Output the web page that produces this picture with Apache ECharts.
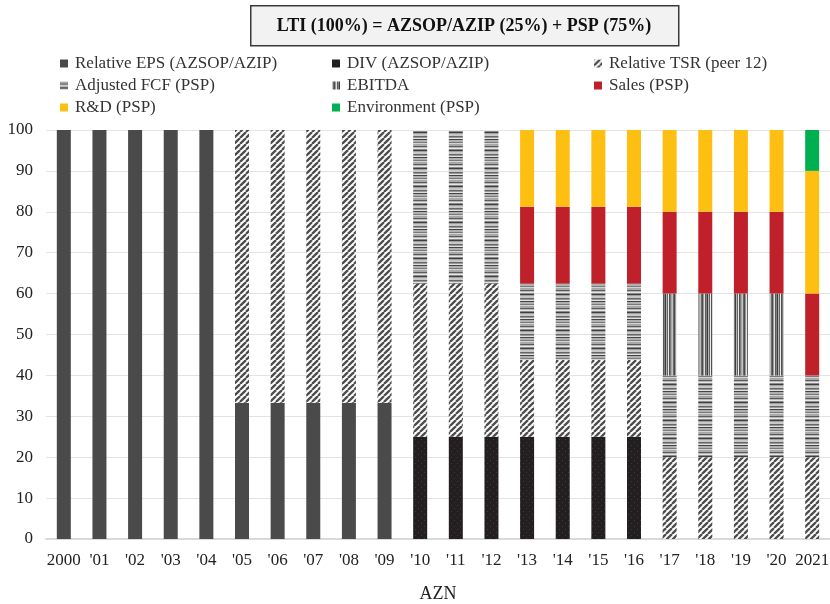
<!DOCTYPE html>
<html>
<head>
<meta charset="utf-8">
<style>
  html, body { margin: 0; padding: 0; background: #fff; }
  #chart { width: 830px; height: 604px; }
</style>
<script src="https://cdn.jsdelivr.net/npm/echarts@6/dist/echarts.min.js"></script>
</head>
<body>
<div id="chart"></div>
<script>
// Years on the category axis
const years = ['2000', "'01", "'02", "'03", "'04", "'05", "'06", "'07", "'08", "'09",
  "'10", "'11", "'12", "'13", "'14", "'15", "'16", "'17", "'18", "'19", "'20", '2021'];

// Weight of each performance measure in the LTI (%), stacked per year
const relEps     = [100, 100, 100, 100, 100, 33.3, 33.3, 33.3, 33.3, 33.3, 0, 0, 0, 0, 0, 0, 0, 0, 0, 0, 0, 0];
const divAz      = [0, 0, 0, 0, 0, 0, 0, 0, 0, 0, 25, 25, 25, 25, 25, 25, 25, 0, 0, 0, 0, 0];
const relTsr     = [0, 0, 0, 0, 0, 66.7, 66.7, 66.7, 66.7, 66.7, 37.5, 37.5, 37.5, 18.75, 18.75, 18.75, 18.75, 20, 20, 20, 20, 20];
const adjFcf     = [0, 0, 0, 0, 0, 0, 0, 0, 0, 0, 37.5, 37.5, 37.5, 18.75, 18.75, 18.75, 18.75, 20, 20, 20, 20, 20];
const ebitda     = [0, 0, 0, 0, 0, 0, 0, 0, 0, 0, 0, 0, 0, 0, 0, 0, 0, 20, 20, 20, 20, 0];
const sales      = [0, 0, 0, 0, 0, 0, 0, 0, 0, 0, 0, 0, 0, 18.75, 18.75, 18.75, 18.75, 20, 20, 20, 20, 20];
const rnd        = [0, 0, 0, 0, 0, 0, 0, 0, 0, 0, 0, 0, 0, 18.75, 18.75, 18.75, 18.75, 20, 20, 20, 20, 30];
const environ    = [0, 0, 0, 0, 0, 0, 0, 0, 0, 0, 0, 0, 0, 0, 0, 0, 0, 0, 0, 0, 0, 10];

const yTicks = [0, 10, 20, 30, 40, 50, 60, 70, 80, 90, 100];

const SERIF = '"Liberation Serif", "DejaVu Serif", serif';

// Texture helpers for the monochrome fills
function tile(w, h, draw) {
  const c = document.createElement('canvas');
  c.width = w; c.height = h;
  const ctx = c.getContext('2d');
  draw(ctx, w, h);
  return { image: c, repeat: 'repeat' };
}

// diagonal "/" stripes
const diagFill = tile(6, 6, (ctx, w, h) => {
  ctx.fillStyle = '#ffffff';
  ctx.fillRect(0, 0, w, h);
  ctx.strokeStyle = '#4d4d4d';
  ctx.lineWidth = 2.3;
  ctx.beginPath();
  for (let k = -2; k <= 2; k++) {
    ctx.moveTo(k * w, h);
    ctx.lineTo(k * w + w, 0);
  }
  ctx.stroke();
});

// horizontal grey bands of mixed tone
const horizFill = tile(4, 18, (ctx, w, h) => {
  const tones = ['#a8a8a8', '#a8a8a8', '#5a5a5a', '#b8b8b8', '#e6e6e6', '#8a8a8a', '#3f3f3f', '#a0a0a0',
                 '#c8c8c8', '#c8c8c8', '#666666', '#999999', '#e0e0e0', '#444444', '#b0b0b0', '#b0b0b0',
                 '#7a7a7a', '#d4d4d4'];
  tones.forEach((t, i) => { ctx.fillStyle = t; ctx.fillRect(0, i, w, 1); });
});

// vertical grey lines of mixed tone
const vertFill = tile(14, 4, (ctx, w, h) => {
  const tones = ['#c0c0c0', '#6a6a6a', '#4a4a4a', '#9a9a9a', '#e0e0e0', '#5a5a5a', '#808080',
                 '#3c3c3c', '#b4b4b4', '#606060', '#eeeeee', '#505050', '#7c7c7c', '#a8a8a8'];
  tones.forEach((t, i) => { ctx.fillStyle = t; ctx.fillRect(i, 0, 1, h); });
});

// near-black with faint dots
const dotFill = tile(6, 6, (ctx, w, h) => {
  ctx.fillStyle = '#231f20';
  ctx.fillRect(0, 0, w, h);
  ctx.fillStyle = '#3a3a3a';
  ctx.fillRect(1, 1, 1, 1);
  ctx.fillRect(4, 4, 1, 1);
});

function bar(name, data, color) {
  return {
    name, type: 'bar', stack: 'lti', data, barWidth: 14,
    itemStyle: { color },
    emphasis: { disabled: true }
  };
}

const series = [
  bar('Relative EPS (AZSOP/AZIP)', relEps, '#4a4a4a'),
  bar('DIV (AZSOP/AZIP)', divAz, dotFill),
  bar('Relative TSR (peer 12)', relTsr, diagFill),
  bar('Adjusted FCF (PSP)', adjFcf, horizFill),
  bar('EBITDA', ebitda, vertFill),
  bar('Sales (PSP)', sales, '#c0202a'),
  bar('R&D (PSP)', rnd, '#fdbf12'),
  bar('Environment (PSP)', environ, '#00b050')
];

function legendCol(left, names) {
  return {
    orient: 'vertical', left, top: 50, data: names,
    icon: 'rect', itemWidth: 8, itemHeight: 8, itemGap: 5,
    selectedMode: false,
    textStyle: { fontFamily: SERIF, fontSize: 17, color: '#333', padding: [0, 0, 0, 2] }
  };
}

const chart = echarts.init(document.getElementById('chart'), null, { renderer: 'canvas' });
chart.setOption({
  animation: false,
  backgroundColor: '#ffffff',
  graphic: [
    {
      type: 'rect', left: 250, top: 5,
      shape: { width: 428, height: 40 },
      style: { fill: '#f2f2f2', stroke: '#3a3a3a', lineWidth: 1.5 }
    },
    {
      type: 'text', x: 464, y: 26,
      style: {
        text: 'LTI (100%) = AZSOP/AZIP (25%) + PSP (75%)',
        font: 'bold 18px ' + SERIF, fill: '#111',
        align: 'center', verticalAlign: 'middle'
      }
    }
  ],
  legend: [
    legendCol(55, ['Relative EPS (AZSOP/AZIP)', 'Adjusted FCF (PSP)', 'R&D (PSP)']),
    legendCol(327, ['DIV (AZSOP/AZIP)', 'EBITDA', 'Environment (PSP)']),
    legendCol(589, ['Relative TSR (peer 12)', 'Sales (PSP)'])
  ],
  grid: { left: 46, right: 0, top: 130, bottom: 65, containLabel: false, outerBoundsMode: 'none' },
  xAxis: {
    type: 'category', data: years,
    name: 'AZN', nameLocation: 'middle', nameGap: 46,
    nameTextStyle: { fontFamily: SERIF, fontSize: 18, color: '#222' },
    axisLine: { lineStyle: { color: '#d9d9d9', width: 2 } },
    axisTick: { show: false },
    axisLabel: { fontFamily: SERIF, fontSize: 17, color: '#222', margin: 13, interval: 0 }
  },
  yAxis: {
    type: 'value', min: yTicks[0], max: yTicks[yTicks.length - 1], interval: 10,
    axisLine: { show: false }, axisTick: { show: false },
    axisLabel: { fontFamily: SERIF, fontSize: 17, color: '#222', margin: 13 },
    splitLine: { lineStyle: { color: '#e3e3e3', width: 1 } }
  },
  series
});
</script>
</body>
</html>
